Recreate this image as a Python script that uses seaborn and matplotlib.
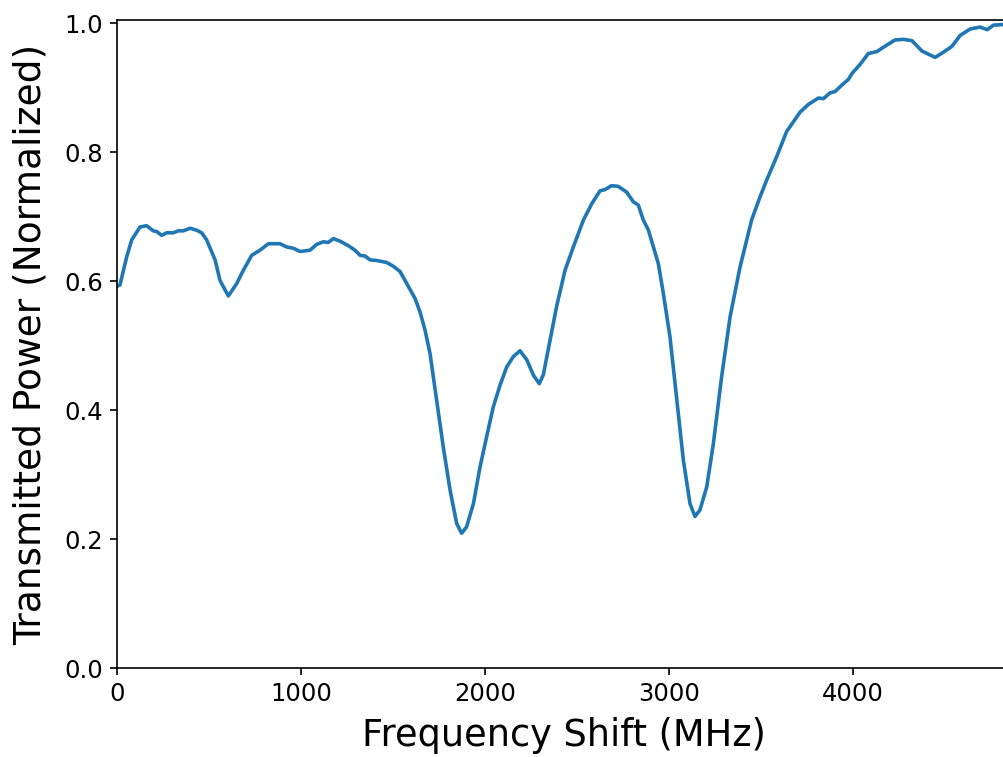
import numpy as np
import pandas as pd
import matplotlib
matplotlib.use("Agg")
import matplotlib.pyplot as plt
import seaborn as sns

# traced transmission spectrum
freq_mhz = [0, 16, 53, 80, 125, 161, 197, 215, 243, 270, 306, 333, 360, 397, 433, 460,
            487, 533, 560, 605, 650, 687, 732, 777, 823, 886, 922, 958, 995, 1049, 1085,
            1121, 1148, 1176, 1212, 1257, 1293, 1321, 1348, 1375, 1411, 1465, 1502, 1538,
            1575, 1620, 1647, 1674, 1701, 1737, 1773, 1810, 1846, 1873, 1900, 1937, 1973,
            2009, 2045, 2082, 2118, 2154, 2190, 2227, 2263, 2295, 2317, 2353, 2390, 2435,
            2480, 2535, 2580, 2625, 2652, 2688, 2724, 2770, 2806, 2833, 2860, 2888, 2915,
            2942, 2969, 3005, 3042, 3078, 3114, 3141, 3168, 3205, 3241, 3286, 3332, 3386,
            3449, 3495, 3531, 3585, 3639, 3712, 3757, 3812, 3839, 3875, 3902, 3939, 3975,
            3994, 4038, 4083, 4129, 4183, 4228, 4274, 4320, 4374, 4446, 4491, 4537, 4582,
            4636, 4690, 4730, 4763, 4820, 4850]
power_norm = [0.592, 0.594, 0.638, 0.664, 0.684, 0.686, 0.678, 0.677, 0.671, 0.675, 0.675,
              0.678, 0.678, 0.682, 0.679, 0.675, 0.664, 0.633, 0.601, 0.577, 0.596, 0.617,
              0.640, 0.648, 0.658, 0.658, 0.653, 0.651, 0.646, 0.648, 0.657, 0.661, 0.660,
              0.666, 0.662, 0.655, 0.648, 0.640, 0.639, 0.633, 0.632, 0.629, 0.623, 0.615,
              0.596, 0.573, 0.552, 0.524, 0.488, 0.416, 0.343, 0.276, 0.224, 0.209, 0.219,
              0.255, 0.312, 0.359, 0.405, 0.439, 0.467, 0.483, 0.492, 0.478, 0.454, 0.441,
              0.455, 0.508, 0.562, 0.617, 0.653, 0.695, 0.720, 0.740, 0.742, 0.748, 0.747,
              0.738, 0.723, 0.718, 0.695, 0.679, 0.653, 0.627, 0.581, 0.514, 0.416, 0.322,
              0.255, 0.235, 0.245, 0.281, 0.348, 0.452, 0.545, 0.622, 0.695, 0.731, 0.757,
              0.793, 0.832, 0.862, 0.874, 0.884, 0.883, 0.892, 0.894, 0.904, 0.913, 0.922,
              0.936, 0.953, 0.956, 0.966, 0.974, 0.975, 0.973, 0.957, 0.947, 0.955, 0.964,
              0.981, 0.991, 0.994, 0.990, 0.997, 0.998, 0.999]

x_ticks = [0, 1000, 2000, 3000, 4000]
y_ticks = [0.0, 0.2, 0.4, 0.6, 0.8, 1.0]

df = pd.DataFrame({"freq": freq_mhz, "power": power_norm})

sns.set_style("ticks")
plt.rcParams["font.family"] = ["DejaVu Sans"]

fig = plt.figure(figsize=(10.04, 7.57), dpi=100)
# axes runs slightly past the right edge of the image, like the reference crop
ax = fig.add_axes([117 / 1004, 89 / 757, 893 / 1004, 648 / 757])

sns.lineplot(data=df, x="freq", y="power", ax=ax, color="#1f77b4", linewidth=2.6)

ax.set_xlim(0, 4853)
ax.set_ylim(0, 1.005)
ax.set_xticks(x_ticks)
ax.set_yticks(y_ticks)
ax.set_xticklabels([str(t) for t in x_ticks])
ax.set_yticklabels([f"{t:.1f}" for t in y_ticks])
ax.tick_params(labelsize=17.5, length=5, width=1.2, pad=5,
               color="black", labelcolor="black")
for s in ax.spines.values():
    s.set_color("black")
    s.set_linewidth(1.2)

ax.set_xlabel("Frequency Shift (MHz)", fontsize=26.5, color="black", labelpad=8)
ax.set_ylabel("Transmitted Power (Normalized)", fontsize=27, color="black", labelpad=11)

fig.savefig("out.png", dpi=100)
